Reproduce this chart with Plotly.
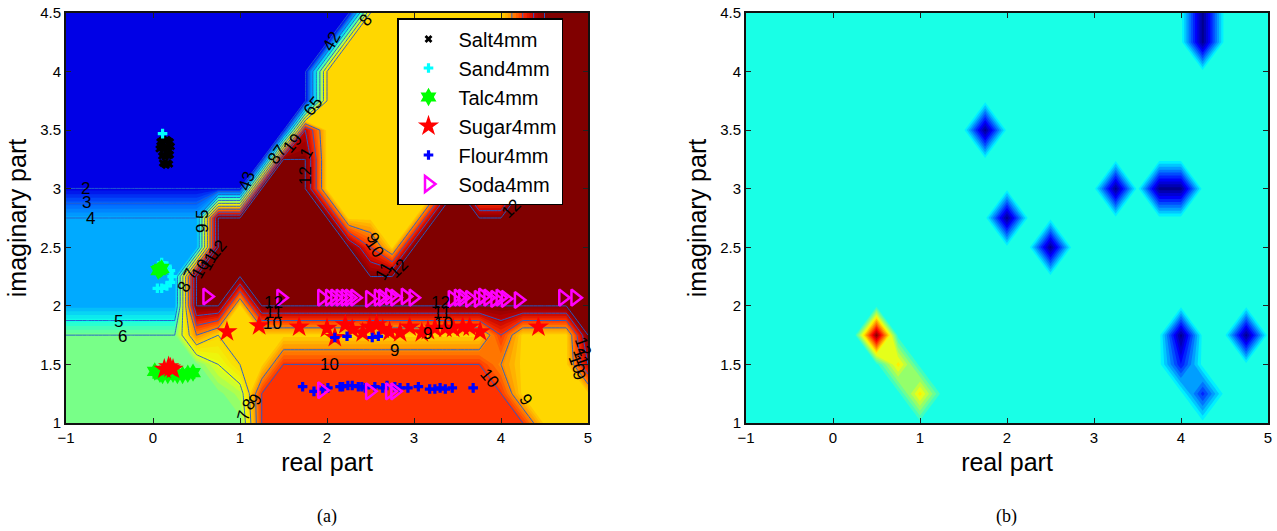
import plotly.graph_objects as go

grid_x = [-1, -.75, -.5, -.25, 0, .25, .5, .75, 1, 1.25, 1.5, 1.75, 2, 2.25, 2.5, 2.75, 3, 3.25, 3.5, 3.75, 4, 4.25, 4.5, 4.75, 5]
grid_y = [1, 1.25, 1.5, 1.75, 2, 2.25, 2.5, 2.75, 3, 3.25, 3.5, 3.75, 4, 4.25, 4.5]

class_map = [
 [6,6,6,6,6,6,6,6,6,10,10,10,10,10,10,10,10,10,10,10,10,10,8,8,8],
 [6,6,6,6,6,6,6,6,6.5,10,10,10,10,10,10,10,10,10,10,10,10,8,8,8,8],
 [6,6,6,6,6,6,6,7,8,8,10,10,10,10,10,10,10,10,10,10,9,8,8,8,11],
 [6,6,6,6,6,6,9,8,8,8,8,8,8,8,8,8,8,8,8,8,10,8,8,8,12],
 [4,4,4,4,4,4,12,12,8,12,12,12,12,12,12,12,12,12,12,12,12,12,12,12,12],
 [4,4,4,4,4,4,12,12,12,12,12,12,12,12,12,12,12,12,12,12,12,12,12,12,12],
 [4,4,4,4,4,4,4,12,12,12,12,12,12,12,10,8,12,12,12,12,12,12,12,12,12],
 [4,4,4,4,4,4,4,12,12,12,12,12,12,8,8,8,8,12,12,12,12,12,12,12,12],
 [2,2,2,2,2,2,2,2,2,12,12,12,8,8,8,8,8,8,12,8,8,12,12,12,12],
 [1.9,1.9,1.9,1.9,1.9,1.9,1.9,1.9,1.9,1.9,12,12,8,8,8,8,8,8,8,12,12,12,12,12,12],
 [1.9,1.9,1.9,1.9,1.9,1.9,1.9,1.9,1.9,1.9,1.9,11,8,8,8,8,8,8,8,12,12,12,12,12,12],
 [1.9,1.9,1.9,1.9,1.9,1.9,1.9,1.9,1.9,1.9,1.9,1.9,8,8,8,8,8,8,8,12,12,12,12,12,12],
 [1.9,1.9,1.9,1.9,1.9,1.9,1.9,1.9,1.9,1.9,1.9,1.9,8,8,8,8,8,8,8,8,12,12,12,12,12],
 [1.9,1.9,1.9,1.9,1.9,1.9,1.9,1.9,1.9,1.9,1.9,1.9,1.9,8,8,8,8,8,8,8,8,10,12,12,12],
 [1.9,1.9,1.9,1.9,1.9,1.9,1.9,1.9,1.9,1.9,1.9,1.9,1.9,1.9,8,8,8,8,8,8,8,10,12,12,12],
]

right_map = [
 [0]*25,
 [0,0,0,0,0,0,0,0,.6,0,0,0,0,0,0,0,0,0,0,0,0,-.6,0,0,0],
 [0,0,0,0,0,0,0,.6,0,0,0,0,0,0,0,0,0,0,0,0,-.65,0,0,0,0],
 [0,0,0,0,0,0,1.5,0,0,0,0,0,0,0,0,0,0,0,0,0,-1,0,0,-1,0],
 [0]*25,
 [0]*25,
 [0,0,0,0,0,0,0,0,0,0,0,0,0,0,-1,0,0,0,0,0,0,0,0,0,0],
 [0,0,0,0,0,0,0,0,0,0,0,0,-1,0,0,0,0,0,0,0,0,0,0,0,0],
 [0,0,0,0,0,0,0,0,0,0,0,0,0,0,0,0,0,-1,0,-1,-1,0,0,0,0],
 [0]*25,
 [0,0,0,0,0,0,0,0,0,0,0,-1,0,0,0,0,0,0,0,0,0,0,0,0,0],
 [0]*25,
 [0]*25,
 [0,0,0,0,0,0,0,0,0,0,0,0,0,0,0,0,0,0,0,0,0,-1,0,0,0],
 [0,0,0,0,0,0,0,0,0,0,0,0,0,0,0,0,0,0,0,0,0,-1,0,0,0],
]

salt_x = [.08,.1,.12,.14,.16,.18,.2,.07,.09,.11,.13,.15,.17,.19,.21,.1,.12,.14,.16,.18,.2,.11,.13,.15,.17,.19]
salt_y = [3.4,3.41,3.42,3.41,3.42,3.41,3.4,3.34,3.35,3.36,3.34,3.36,3.35,3.33,3.36,3.28,3.29,3.27,3.3,3.28,3.29,3.22,3.21,3.2,3.22,3.21]
sand_x = [.11,.1,.16,.2,.22,.2,.16,.1,.05]
sand_y = [3.47,2.37,2.34,2.3,2.25,2.2,2.17,2.15,2.15]
talc_x = [.02,.08,.11,.17,.23,.28,.34,.4,.46,.06,.08,.1]
talc_y = [1.44,1.42,1.41,1.41,1.42,1.41,1.41,1.42,1.43,2.3,2.31,2.32]
sugar_x = [.13,.18,.2,.23,.85,1.22,1.68,2.0,2.09,2.21,2.29,2.41,2.49,2.57,2.64,2.72,2.84,2.95,3.09,3.16,3.24,3.36,3.45,3.56,3.64,3.76,4.43]
sugar_y = [1.46,1.48,1.47,1.46,1.78,1.83,1.82,1.81,1.73,1.84,1.8,1.77,1.82,1.84,1.8,1.78,1.77,1.82,1.77,1.79,1.81,1.81,1.81,1.82,1.82,1.78,1.82]
flour_x = [1.72,1.85,1.95,2.01,2.15,2.18,2.24,2.29,2.36,2.4,2.44,2.55,2.64,2.69,2.78,2.84,2.93,3.05,3.18,3.24,3.3,3.36,3.44,3.68,2.09,2.23,2.52,2.59]
flour_y = [1.31,1.27,1.29,1.3,1.31,1.31,1.32,1.32,1.31,1.31,1.3,1.31,1.3,1.32,1.31,1.3,1.3,1.31,1.29,1.29,1.3,1.29,1.3,1.3,1.73,1.74,1.73,1.74]
soda_x = [.62,1.47,1.94,2.03,2.09,2.15,2.21,2.26,2.32,2.49,2.59,2.64,2.72,2.78,2.9,2.99,3.44,3.51,3.56,3.64,3.74,3.79,3.85,3.93,3.99,4.05,4.2,4.71,4.85,1.94,2.49,2.72,2.78]
soda_y = [2.08,2.07,2.07,2.07,2.07,2.07,2.07,2.07,2.07,2.06,2.07,2.07,2.08,2.07,2.08,2.07,2.06,2.07,2.07,2.06,2.06,2.08,2.07,2.06,2.07,2.06,2.05,2.07,2.07,1.28,1.27,1.27,1.27]

label_text = ['2','3','4','5','6','10','9','10','9','10','9','8','7','65','87','19','1','12','43','42','8','9 5','8 7','10','11','12','9','10','11','12','12','9','10','11','12','12','11','10','9','12','11']
label_x = [-.78,-.76,-.72,-.4,-.35,2.03,2.78,3.87,4.28,1.37,1.18,1.1,1.05,1.84,1.43,1.6,1.76,1.76,1.08,2.05,2.44,.57,.39,.55,.64,.74,2.52,2.55,2.66,2.82,4.12,4.89,4.87,4.92,4.94,3.3,3.32,3.34,3.16,1.39,1.39]
label_y = [3,2.88,2.75,1.87,1.74,1.5,1.62,1.38,1.2,1.85,1.2,1.16,1.06,3.7,3.29,3.39,3.3,3.11,3.07,4.26,4.44,2.72,2.22,2.32,2.38,2.48,2.58,2.49,2.3,2.32,2.83,1.41,1.5,1.56,1.65,2.03,1.94,1.85,1.76,2.03,1.94]
label_angle = [0,0,0,0,0,0,0,50,55,0,-60,-60,-75,-50,-55,-50,-60,-90,-70,-60,-50,-90,-65,-60,-60,-50,60,55,-60,-45,-45,70,70,70,70,0,0,0,0,0,0]

x_ticks = [-1, 0, 1, 2, 3, 4, 5]
x_tick_text = ['\u22121', '0', '1', '2', '3', '4', '5']
y_ticks = [1, 1.5, 2, 2.5, 3, 3.5, 4, 4.5]
y_tick_text = ['1', '1.5', '2', '2.5', '3', '3.5', '4', '4.5']

left_scale_values = [1, 2, 3, 4, 5, 6, 7, 8, 9, 10, 11, 12]
left_scale_colors = ['#00008f', '#0000e6', '#0060ff', '#00aaff', '#10ffe8', '#78ff88', '#e8ff10', '#ffd700', '#ff8c00', '#ff3200', '#c00000', '#800000']
jet = [[0, '#00008f'], [.125, '#0000ff'], [.375, '#00ffff'], [.625, '#ffff00'], [.875, '#ff0000'], [1, '#800000']]

W, H = 1277, 531
fig = go.Figure()

left_cs = [[(v - 1) / 11, c] for v, c in zip(left_scale_values, left_scale_colors)]
fig.add_trace(go.Contour(x=grid_x, y=grid_y, z=class_map, zmin=1, zmax=12, colorscale=left_cs, showscale=False,
                         autocontour=False, contours=dict(start=.875, end=12.125, size=.25, coloring='fill', showlines=False),
                         line=dict(width=0, smoothing=0), hoverinfo='skip', showlegend=False, xaxis='x', yaxis='y'))
fig.add_trace(go.Contour(x=grid_x, y=grid_y, z=class_map, showscale=False, autocontour=False,
                         contours=dict(start=1.999, end=11.999, size=1, coloring='none', showlines=True),
                         line=dict(width=1, smoothing=0, color='rgba(35,95,205,0.95)'), hoverinfo='skip', showlegend=False, xaxis='x', yaxis='y'))

series = [
    ('Salt4mm', salt_x, salt_y, dict(symbol='x', size=7, color='black')),
    ('Sand4mm', sand_x, sand_y, dict(symbol='cross', size=8, color='#00ffff')),
    ('Talc4mm', talc_x, talc_y, dict(symbol='hexagram', size=14, color='#00ff00')),
    ('Sugar4mm', sugar_x, sugar_y, dict(symbol='star', size=16, color='#ff0000')),
    ('Flour4mm', flour_x, flour_y, dict(symbol='cross', size=8, color='#0000ff')),
    ('Soda4mm', soda_x, soda_y, dict(symbol='triangle-right-open', size=14, color='#ff00ff', line=dict(width=2.5, color='#ff00ff'))),
]
for name, xs, ys, m in series:
    fig.add_trace(go.Scatter(x=xs, y=ys, mode='markers', name=name, marker=m, xaxis='x', yaxis='y'))

fig.add_trace(go.Contour(x=grid_x, y=grid_y, z=right_map, zmin=-1, zmax=1.5, colorscale=jet, showscale=False,
                         autocontour=False, contours=dict(start=-1.05, end=1.55, size=.1, coloring='fill', showlines=False),
                         line=dict(width=0, smoothing=0), hoverinfo='skip', showlegend=False, xaxis='x2', yaxis='y2'))

annotations = [dict(text=t, x=x, y=y, textangle=a, xref='x', yref='y', showarrow=False,
                    font=dict(family='Liberation Sans', size=17, color='black'))
               for t, x, y, a in zip(label_text, label_x, label_y, label_angle)]
for t, px in (('(a)', 327), ('(b)', 1007)):
    annotations.append(dict(text=t, x=px / W, y=1 - 516 / H, xref='paper', yref='paper', xanchor='center', yanchor='middle',
                            showarrow=False, font=dict(family='Liberation Serif', size=18, color='black')))

axis = dict(tickmode='array', ticks='inside', ticklen=5, tickwidth=1, tickcolor='#222', showline=True,
            linewidth=2, linecolor='#111', mirror='allticks', showgrid=False, zeroline=False, automargin=False,
            tickfont=dict(family='Liberation Sans', size=15, color='black'))
title_font = dict(family='Liberation Sans', size=25, color='black')

fig.update_layout(
    width=W, height=H, margin=dict(l=0, r=0, t=0, b=0), paper_bgcolor='white', plot_bgcolor='white',
    annotations=annotations,
    xaxis=dict(axis, domain=[66 / W, 588 / W], range=[-1, 5], tickvals=x_ticks, ticktext=x_tick_text,
               title=dict(text='real part', font=title_font, standoff=8)),
    yaxis=dict(axis, domain=[1 - 423 / H, 1 - 13 / H], range=[1, 4.5], tickvals=y_ticks, ticktext=y_tick_text,
               title=dict(text='imaginary part', font=title_font, standoff=6)),
    xaxis2=dict(axis, domain=[746 / W, 1268 / W], range=[-1, 5], tickvals=x_ticks, ticktext=x_tick_text, anchor='y2',
                title=dict(text='real part', font=title_font, standoff=8)),
    yaxis2=dict(axis, domain=[1 - 423 / H, 1 - 13 / H], range=[1, 4.5], tickvals=y_ticks, ticktext=y_tick_text, anchor='x2',
                title=dict(text='imaginary part', font=title_font, standoff=6)),
    legend=dict(x=397 / W, y=1 - 18 / H, xanchor='left', yanchor='top', bgcolor='white', bordercolor='black', borderwidth=1.5,
                font=dict(family='Liberation Sans', size=20, color='black'), itemsizing='trace',
                itemwidth=50, entrywidth=147, entrywidthmode='pixels'),
)
fig.write_html('out.html', config={'displayModeBar': False}, post_script="document.body.style.margin='0';")
